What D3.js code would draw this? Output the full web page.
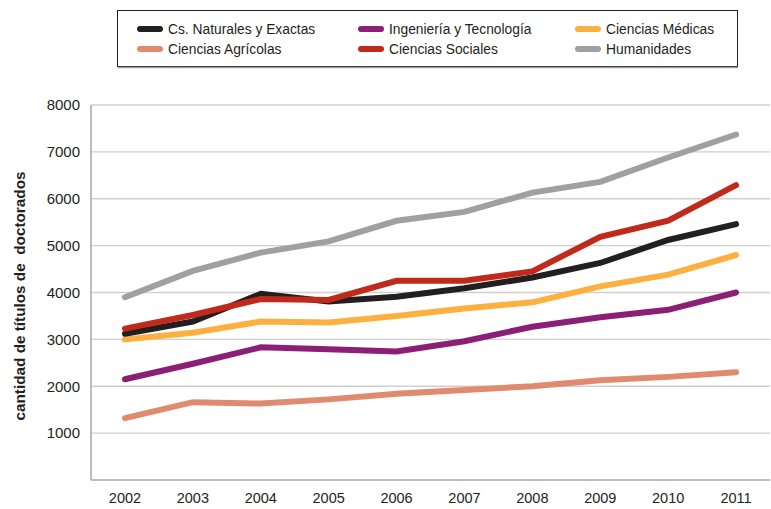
<!DOCTYPE html>
<html>
<head>
<meta charset="utf-8">
<script src="https://cdn.jsdelivr.net/npm/d3@7"></script>
<style>
  body { margin: 0; background: #fff; }
  svg { display: block; font-family: "Liberation Sans", Arial, sans-serif; }
</style>
</head>
<body>
<svg id="chart" width="771" height="509"></svg>
<script>
// years on the x axis
const years = ['2002', '2003', '2004', '2005', '2006', '2007', '2008', '2009', '2010', '2011'];
const yTicks = [1000, 2000, 3000, 4000, 5000, 6000, 7000, 8000];

// values
const naturales = [3120, 3380, 3970, 3810, 3910, 4090, 4320, 4630, 5120, 5460];
const ingenieria = [2150, 2480, 2830, 2790, 2740, 2960, 3270, 3470, 3630, 4000];
const medicas = [3000, 3140, 3380, 3360, 3500, 3660, 3790, 4130, 4380, 4800];
const agricolas = [1320, 1660, 1630, 1720, 1840, 1920, 2000, 2130, 2200, 2300];
const sociales = [3230, 3520, 3860, 3840, 4250, 4250, 4450, 5190, 5530, 6290];
const humanidades = [3900, 4460, 4850, 5090, 5530, 5720, 6130, 6360, 6880, 7370];

const series = [
  { name: 'Cs. Naturales y Exactas', values: naturales, color: '#231f20' },
  { name: 'Ingeniería y Tecnología', values: ingenieria, color: '#8b1f76' },
  { name: 'Ciencias Médicas', values: medicas, color: '#fbb040' },
  { name: 'Ciencias Agrícolas', values: agricolas, color: '#e08b6f' },
  { name: 'Ciencias Sociales', values: sociales, color: '#c12a1a' },
  { name: 'Humanidades', values: humanidades, color: '#a0a0a3' }
];
// drawing order (last on top)
const drawOrder = [3, 1, 2, 0, 4, 5];

const margin = { top: 105, right: 1, bottom: 29, left: 91 };
const width = 771 - margin.left - margin.right;
const height = 509 - margin.top - margin.bottom;

const svg = d3.select('#chart');
const g = svg.append('g').attr('transform', `translate(${margin.left},${margin.top})`);

const x = d3.scaleBand().domain(years).range([0, width]);
const y = d3.scaleLinear().domain([0, 8000]).range([height, 0]);

// gridlines
g.selectAll('.grid')
  .data(yTicks)
  .enter().append('line')
  .attr('x1', 0).attr('x2', width)
  .attr('y1', d => y(d)).attr('y2', d => y(d))
  .attr('stroke', '#cfcfcf')
  .attr('stroke-width', 1.3);

// axes
const yAxis = g.append('g')
  .call(d3.axisLeft(y).tickValues(yTicks).tickSize(0).tickPadding(11).tickFormat(d3.format('d')));
yAxis.select('.domain').remove();
yAxis.selectAll('text').attr('font-size', 15).attr('fill', '#231f20').attr('font-family', '"Liberation Sans", Arial, sans-serif');

const xAxis = g.append('g')
  .attr('transform', `translate(0,${height})`)
  .call(d3.axisBottom(x).tickSize(0).tickPadding(13));
xAxis.select('.domain').remove();
xAxis.selectAll('text').attr('font-size', 14.5).attr('fill', '#231f20').attr('font-family', '"Liberation Sans", Arial, sans-serif');

g.append('line').attr('x1', 0).attr('x2', 0).attr('y1', 0).attr('y2', height)
  .attr('stroke', '#a6a6a6').attr('stroke-width', 1.5);
g.append('line').attr('x1', 0).attr('x2', width).attr('y1', height).attr('y2', height)
  .attr('stroke', '#a6a6a6').attr('stroke-width', 1.5);

// lines
const line = d3.line()
  .x((d, i) => x(years[i]) + x.bandwidth() / 2)
  .y(d => y(d));

g.selectAll('.line')
  .data(drawOrder.map(i => series[i]))
  .enter().append('path')
  .attr('fill', 'none')
  .attr('stroke', d => d.color)
  .attr('stroke-width', 6)
  .attr('stroke-linecap', 'round')
  .attr('stroke-linejoin', 'miter')
  .attr('d', d => line(d.values));

// y axis title
svg.append('text')
  .attr('transform', 'translate(25,296) rotate(-90)')
  .attr('text-anchor', 'middle')
  .attr('font-size', 15.3)
  .attr('font-weight', 'bold')
  .attr('fill', '#231f20')
  .attr('xml:space', 'preserve')
  .text('cantidad de títulos de  doctorados');

// legend
const legend = svg.append('g');
legend.append('rect')
  .attr('x', 117.5).attr('y', 10.5)
  .attr('width', 620).attr('height', 56)
  .attr('fill', '#fff')
  .attr('stroke', '#231f20')
  .attr('stroke-width', 1);
legend.append('line')
  .attr('x1', 118).attr('x2', 738).attr('y1', 67.5).attr('y2', 67.5)
  .attr('stroke', '#9a9a9a').attr('stroke-width', 1.5);

const colX = [137, 358, 575];
const rowY = [29, 49];
const items = legend.selectAll('.item')
  .data(series)
  .enter().append('g')
  .attr('transform', (d, i) => `translate(${colX[i % 3]},${rowY[Math.floor(i / 3)]})`);
items.append('line')
  .attr('x1', 3).attr('x2', 23)
  .attr('stroke', d => d.color)
  .attr('stroke-width', 6)
  .attr('stroke-linecap', 'round');
items.append('text')
  .attr('x', 31).attr('y', 5)
  .attr('font-size', 13.8)
  .attr('fill', '#231f20')
  .text(d => d.name);
</script>
</body>
</html>
